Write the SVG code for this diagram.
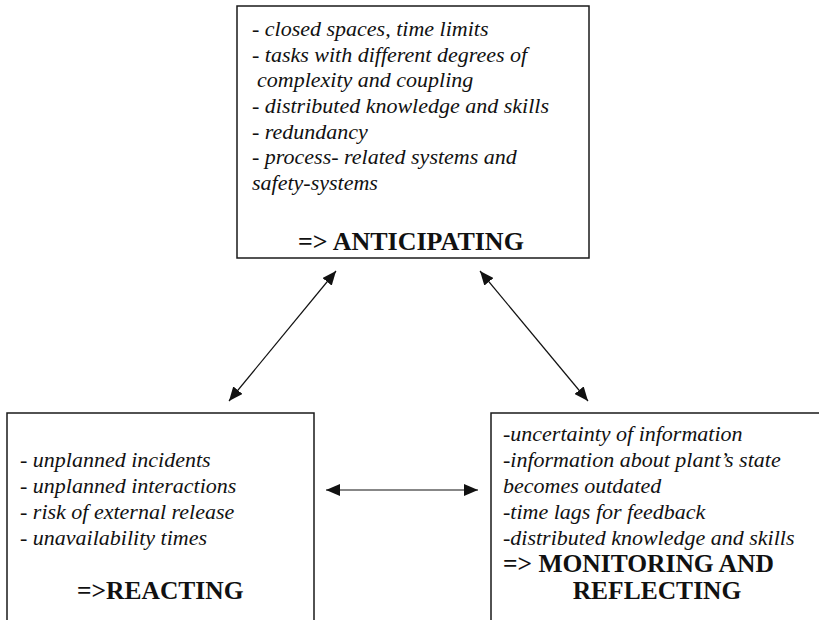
<svg xmlns="http://www.w3.org/2000/svg" width="819" height="620" viewBox="0 0 819 620">
  <style>
    .box { fill: #ffffff; stroke: #1a1a1a; stroke-width: 1.5; }
    .item { font-family: "Liberation Serif", "Times New Roman", serif; font-style: italic; font-size: 22px; fill: #111; }
    .head { font-family: "Liberation Serif", "Times New Roman", serif; font-weight: bold; font-size: 25.5px; fill: #111; }
    .link { stroke: #111; stroke-width: 1.2; fill: none; marker-start: url(#tip); marker-end: url(#tip); }
  </style>
  <defs>
    <marker id="tip" viewBox="0 0 14 12" refX="14" refY="6" markerWidth="14" markerHeight="12" markerUnits="userSpaceOnUse" orient="auto-start-reverse">
      <path d="M0,0 L14,6 L0,12 Z" fill="#111"/>
    </marker>
  </defs>
  <rect width="819" height="620" fill="#ffffff"/>

  <g id="anticipating">
    <rect class="box" x="237" y="6" width="352" height="252"/>
    <text class="item" x="252" y="36">- closed spaces, time limits</text>
    <text class="item" x="252" y="62">- tasks with different degrees of</text>
    <text class="item" x="257" y="87">complexity and coupling</text>
    <text class="item" x="252" y="113">- distributed knowledge and skills</text>
    <text class="item" x="252" y="139">- redundancy</text>
    <text class="item" x="252" y="164">- process- related systems and</text>
    <text class="item" x="252" y="190">safety-systems</text>
    <text class="head" x="298" y="250" style="font-size:26px">=&gt; ANTICIPATING</text>
  </g>

  <g id="reacting">
    <path class="box" d="M7,621 V413 H314 V621"/>
    <text class="item" x="20" y="467">- unplanned incidents</text>
    <text class="item" x="20" y="493">- unplanned interactions</text>
    <text class="item" x="20" y="519">- risk of external release</text>
    <text class="item" x="20" y="545">- unavailability times</text>
    <text class="head" x="77" y="599">=&gt;REACTING</text>
  </g>

  <g id="monitoring">
    <path class="box" d="M491,621 V413 H821"/>
    <text class="item" x="503" y="441">-uncertainty of information</text>
    <text class="item" x="503" y="467">-information about plant’s state</text>
    <text class="item" x="503" y="493">becomes outdated</text>
    <text class="item" x="503" y="519">-time lags for feedback</text>
    <text class="item" x="503" y="545">-distributed knowledge and skills</text>
    <text class="head" x="503" y="572">=&gt; MONITORING AND</text>
    <text class="head" x="657" y="599" text-anchor="middle">REFLECTING</text>
  </g>

  <g id="connectors">
    <line class="link" x1="336" y1="271" x2="229" y2="401"/>
    <line class="link" x1="480" y1="271" x2="588" y2="401"/>
    <line class="link" x1="326" y1="490" x2="478" y2="490"/>
  </g>
</svg>
